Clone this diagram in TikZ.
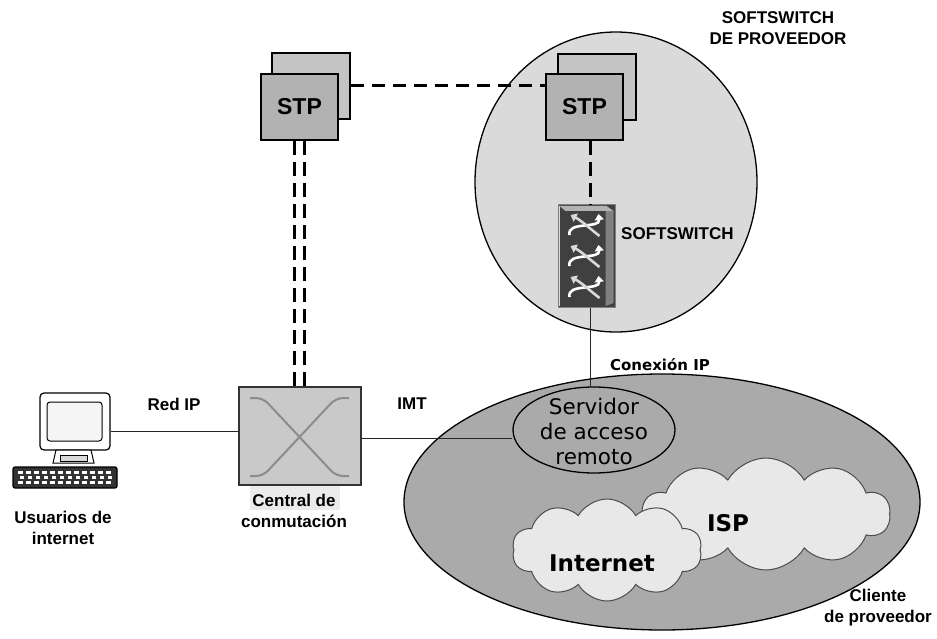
\documentclass[tikz,border=0pt]{standalone}
\usepackage{fontspec}
\setmainfont{Liberation Sans}
\newfontfamily\dvs{DejaVu Sans}
\usetikzlibrary{shapes.geometric,shapes.symbols,arrows.meta,calc}
\definecolor{ringfill}{HTML}{DADADA}
\definecolor{clientfill}{HTML}{AAAAAA}
\definecolor{cloudfill}{HTML}{E8E8E8}
\definecolor{stpfrontc}{HTML}{B2B2B2}
\definecolor{stpbackc}{HTML}{C4C4C4}
\definecolor{switchfill}{HTML}{C9C9C9}
\definecolor{xline}{HTML}{8C8C8C}
\begin{document}
\begin{tikzpicture}[x=1pt,y=-1pt,
  lbl/.style={font=\fontsize{17}{21}\selectfont\bfseries, align=center, inner sep=0pt},
  stpbox/.style={draw=black, line width=2pt, minimum width=77pt, minimum height=66pt,
    fill=stpfrontc, font=\fontsize{23}{26}\selectfont\bfseries, inner sep=0pt},
  stpshadow/.style={draw=black, line width=2pt, minimum width=78pt, minimum height=66pt,
    fill=stpbackc, inner sep=0pt},
  sigline/.style={line width=3pt, dash pattern=on 13pt off 8pt},
  sigvert/.style={line width=2.5pt, dash pattern=on 14pt off 7pt},
  link/.style={line width=1pt, black!85},
  puff/.style={cloud, cloud puffs=10, cloud puff arc=120, cloud ignores aspect,
    draw=black!70, line width=1pt, fill=cloudfill, inner sep=0pt},
  bigtxt/.style={font=\dvs\bfseries\fontsize{23}{26}\selectfont, inner sep=0pt},
  swarrow/.style={white, line width=2.6pt, -{Triangle[length=6pt,width=9pt]}}
]
\useasboundingbox (0,0) rectangle (937,639);

% provider softswitch domain
\node[ellipse, draw=black, line width=1.3pt, fill=ringfill,
      minimum width=282pt, minimum height=300pt, inner sep=0pt] (ssw) at (616,182) {};
% customer domain
\node[ellipse, draw=black, line width=1.3pt, fill=clientfill,
      minimum width=516pt, minimum height=256pt, inner sep=0pt] (cli) at (662,502) {};
% clouds
\node[puff, minimum width=248pt, minimum height=112pt] (ispc) at (766,514) {};
\node[puff, minimum width=190pt, minimum height=102pt] (netc) at (607,550) {};
\node[bigtxt] (isp) at (728,523) {ISP};
\node[bigtxt] (inet) at (602,563) {Internet};
% remote access server
\node[ellipse, draw=black, line width=1.3pt, fill=clientfill,
      minimum width=162pt, minimum height=86pt, inner sep=0pt] (srv) at (594,430) {};
\node[font=\dvs\fontsize{21.5}{25}\selectfont, align=center, inner sep=0pt] (srvtxt)
      at (594,431) {Servidor\\de acceso\\remoto};

% STP pairs
\node[stpshadow] (stpLb) at (311,86) {};
\node[stpbox] (stpL) at (299.5,107) {STP};
\node[stpshadow] (stpRb) at (597,87) {};
\node[stpbox] (stpR) at (584.5,107) {STP};

% softswitch device
\node[draw=black!50, line width=1pt, fill=black!75, minimum width=57pt,
      minimum height=102pt, inner sep=0pt] (sw) at (586.5,256) {};
\begin{scope}[shift={(sw.center)}]
  \fill[black!50] (19,-49) -- (27,-45) -- (27,47) -- (19,50) -- cycle;
  \fill[black!30] (-27,-50) -- (20,-50) -- (27,-45) -- (-21,-45) -- cycle;
  \draw[black!15, line width=1.4pt] (-27,-50) -- (-27,50);
  \foreach \cy in {-31,0,31} {
    \draw[swarrow]
      (-17,\cy+10) .. controls (-20,\cy-4) and (14,\cy+4) .. (12,\cy-11);
    \draw[swarrow, white!85!black]
      (13,\cy+11) .. controls (4,\cy+4) and (-6,\cy-5) .. (-16,\cy-10);
  }
\end{scope}
\node[lbl, anchor=west] (swlbl) at (621,234) {SOFTSWITCH};

% switching exchange
\node[draw=black!80, line width=1.5pt, fill=switchfill, minimum width=122pt,
      minimum height=98pt, inner sep=0pt] (cen) at (300,436) {};
\begin{scope}[shift={(cen.center)}]
  \draw[xline, line width=2pt, rounded corners=7pt] (-50,-38) -- (-37,-38) -- (36,40) -- (49,40);
  \draw[xline, line width=2pt, rounded corners=7pt] (49,-38) -- (36,-38) -- (-37,40) -- (-50,40);
\end{scope}
\fill[black!8] (250,486) rectangle (340,510);
\node[lbl] (cenlbl) at (294,511) {Central de\\conmutación};

% user computer
\node[draw=black, line width=1.2pt, fill=white, rounded corners=4pt,
      minimum width=70pt, minimum height=57pt, inner sep=0pt] (mon) at (75,421.5) {};
\draw[black, line width=1pt, rounded corners=3pt, fill=black!4] (47,402) rectangle (102,441);
\draw[black, line width=1pt, fill=white] (56,450) -- (91,450) -- (94,463) -- (53,463) -- cycle;
\draw[black, line width=1pt, fill=black!15] (60,455) rectangle (87,461);
\draw[black, line width=1.2pt, fill=black!80, rounded corners=2pt] (13,467) rectangle (117,488);
\foreach \kx in {18,26,...,110} {
  \fill[white] (\kx,471) rectangle ++(5,3);
  \fill[white] (\kx+2,476) rectangle ++(4,3);
  \fill[white] (\kx,481) rectangle ++(5,3);
}
\node[lbl] (pclbl) at (63,528) {Usuarios de\\internet};

% connectors
\draw[sigline] (stpLb.east |- 0,86) -- (stpR.west |- 0,86);
\draw[sigvert] ([xshift=-5pt]stpL.south) -- ([xshift=-5pt]stpL.south |- cen.north);
\draw[sigvert] ([xshift=5pt]stpL.south) -- ([xshift=5pt]stpL.south |- cen.north);
\draw[sigvert] ([xshift=6pt]stpR.south) -- ([xshift=6pt]stpR.south |- sw.north);
\draw[link] ([xshift=4pt]sw.south) -- ([xshift=4pt]sw.south |- srv.north);
\draw[link] ([yshift=-10pt]mon.east) -- ([yshift=-10pt]mon.east -| cen.west);
\draw[link] ([yshift=-2pt]cen.east) -- ([yshift=-2pt]cen.east -| srv.west);

% labels
\node[lbl] (redip) at (174,404) {Red IP};
\node[lbl] (imt) at (412,404) {IMT};
\node[font=\dvs\bfseries\fontsize{15}{18}\selectfont, inner sep=0pt] (conip) at (660,365) {Conexión IP};
\node[lbl] (sswlbl) at (778,28) {SOFTSWITCH\\DE PROVEEDOR};
\node[lbl] (clilbl) at (878,608) {Cliente\\de proveedor};
\end{tikzpicture}
\end{document}
